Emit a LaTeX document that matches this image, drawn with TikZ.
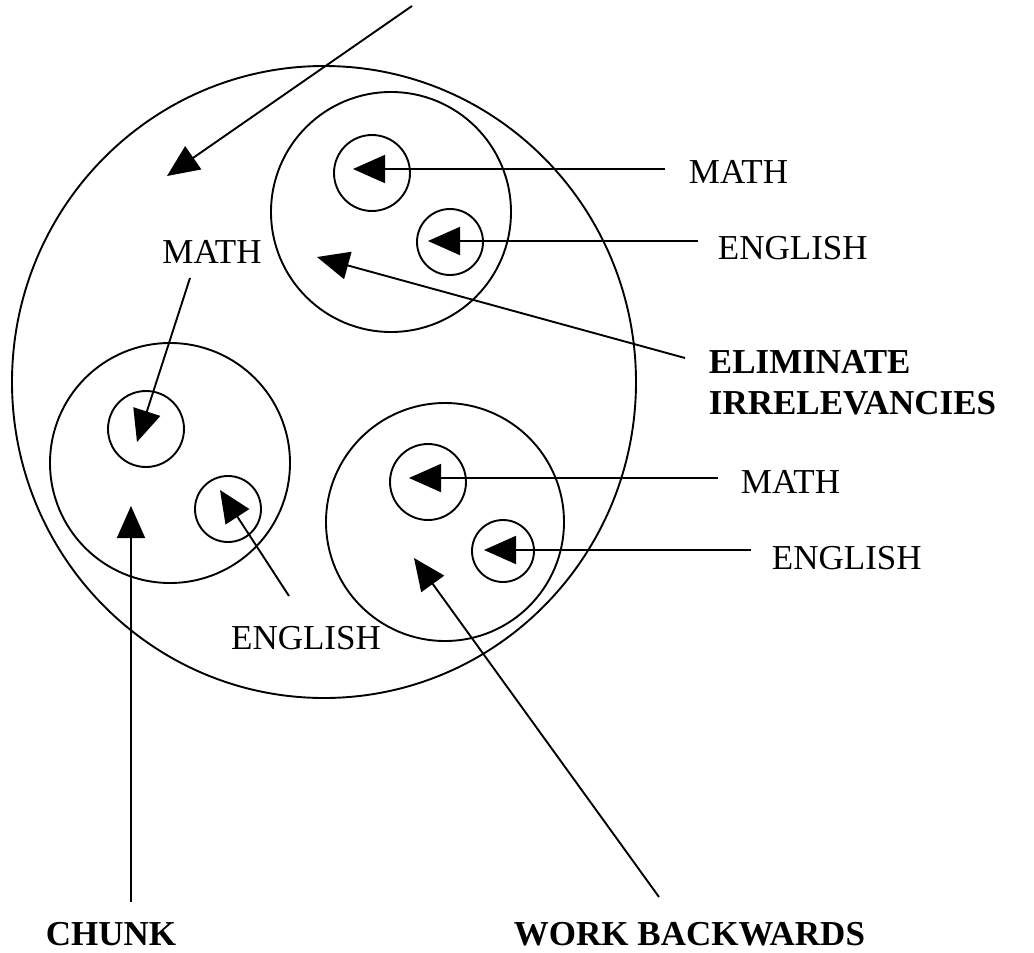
\documentclass[tikz,border=0pt]{standalone}
\usepackage{fontspec}
\setmainfont{Liberation Serif}
\usetikzlibrary{arrows.meta,shapes.geometric}
\begin{document}
\begin{tikzpicture}[x=1pt,y=-1pt,line width=1.9pt,
  ring/.style={draw,circle,inner sep=0pt,minimum size=#1},
  lbl/.style={inner sep=0pt,font=\fontsize{35}{40}\selectfont},
  blbl/.style={inner sep=0pt,font=\fontsize{35}{40}\selectfont\bfseries},
  arr/.style={-{Triangle[length=32pt,width=28pt]}}]
\useasboundingbox (0,0) rectangle (1034,953);
% circles
\node[draw,ellipse,inner sep=0pt,minimum width=624pt,minimum height=632pt] (big) at (324,382) {};
\node[ring=240pt] (cA) at (391,212) {};
\node[ring=240pt] (cB) at (170,463) {};
\node[ring=238pt] (cC) at (445,522) {};
\node[ring=76pt] (sA1) at (372,173) {};
\node[ring=66pt] (sA2) at (450,242) {};
\node[ring=76pt] (sB1) at (146,429) {};
\node[ring=66pt] (sB2) at (228,509) {};
\node[ring=76pt] (sC1) at (428,482) {};
\node[ring=62pt] (sC2) at (503,551) {};
% labels
\node[lbl] (mL) at (212,252) {MATH};
\node[lbl,anchor=west] (mA) at (688,172) {MATH};
\node[lbl,anchor=west] (eA) at (717,248) {ENGLISH};
\node[blbl,anchor=west] (el1) at (708,362) {ELIMINATE};
\node[blbl,anchor=west] (el2) at (708,403) {IRRELEVANCIES};
\node[lbl,anchor=west] (mC) at (740,482) {MATH};
\node[lbl,anchor=west] (eC) at (771,558) {ENGLISH};
\node[lbl] (eB) at (306,638) {ENGLISH};
\node[blbl,anchor=west] (chunk) at (45,934) {CHUNK};
\node[blbl,anchor=west] (wb) at (513,934) {WORK BACKWARDS};
% connector end points
\coordinate (t0s) at (412,6);   \coordinate (t0e) at (167,176);
\coordinate (t1s) at (665,169); \coordinate (t1e) at (353,169);
\coordinate (t2s) at (698,241); \coordinate (t2e) at (428,241);
\coordinate (t3s) at (685,358); \coordinate (t3e) at (317,257);
\coordinate (t4s) at (190,278); \coordinate (t4e) at (137,442);
\coordinate (t5s) at (289,596); \coordinate (t5e) at (220,490);
\coordinate (t6s) at (131,902); \coordinate (t6e) at (131,506);
\coordinate (t7s) at (718,478); \coordinate (t7e) at (409,478);
\coordinate (t8s) at (751,550); \coordinate (t8e) at (484,550);
\coordinate (t9s) at (659,897); \coordinate (t9e) at (414,558);
% connectors
\foreach \i in {0,...,9} { \draw[arr] (t\i s) -- (t\i e); }
\end{tikzpicture}
\end{document}
